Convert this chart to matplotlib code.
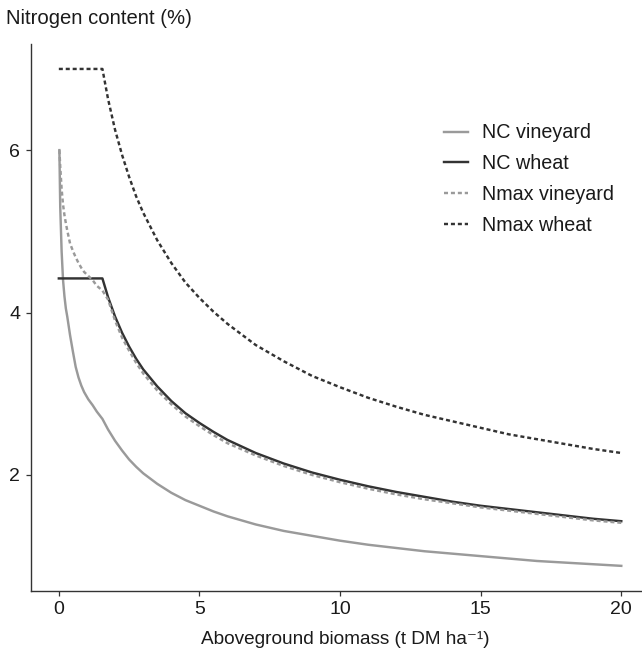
import matplotlib
matplotlib.use("Agg")
import matplotlib.pyplot as plt

plt.rcParams['font.family'] = ['Liberation Sans', 'DejaVu Sans']

# Biomass (t DM/ha) and nitrogen content (%)
biomass_wheat = [0, 1.55, 1.75, 2, 2.25, 2.5, 2.75, 3, 3.5, 4, 4.5, 5, 5.5, 6, 7, 8, 9,
                 10, 11, 12, 13, 14, 15, 16, 17, 18, 19, 20]
nc_wheat = [4.42, 4.42, 4.19, 3.95, 3.75, 3.58, 3.43, 3.30, 3.09, 2.91, 2.76, 2.64,
            2.53, 2.43, 2.27, 2.14, 2.03, 1.94, 1.86, 1.79, 1.73, 1.67, 1.62, 1.58,
            1.54, 1.50, 1.46, 1.43]
nmax_wheat = [7.0, 7.0, 6.63, 6.25, 5.94, 5.67, 5.43, 5.23, 4.89, 4.61, 4.37, 4.18,
              4.01, 3.86, 3.60, 3.40, 3.22, 3.08, 2.95, 2.84, 2.74, 2.66, 2.58, 2.50,
              2.44, 2.38, 2.32, 2.27]

biomass_vineyard = [0.02, 0.05, 0.1, 0.15, 0.2, 0.25, 0.3, 0.4, 0.5, 0.6, 0.7, 0.8,
                    0.9, 1.05, 1.2, 1.35, 1.55, 1.75, 2, 2.25, 2.5, 2.75, 3, 3.5, 4,
                    4.5, 5, 5.5, 6, 7, 8, 9, 10, 11, 12, 13, 14, 15, 16, 17, 18, 19, 20]
nc_vineyard = [6.0, 5.3, 4.75, 4.40, 4.20, 4.05, 3.95, 3.72, 3.52, 3.33, 3.20, 3.10,
               3.02, 2.93, 2.86, 2.78, 2.69, 2.56, 2.42, 2.30, 2.19, 2.10, 2.02, 1.89,
               1.78, 1.69, 1.62, 1.55, 1.49, 1.39, 1.31, 1.25, 1.19, 1.14, 1.10, 1.06,
               1.03, 1.00, 0.97, 0.94, 0.92, 0.90, 0.88]
nmax_vineyard = [6.0, 5.80, 5.52, 5.33, 5.20, 5.10, 5.01, 4.85, 4.76, 4.68, 4.61, 4.55,
                 4.50, 4.45, 4.40, 4.33, 4.27, 4.16, 3.90, 3.69, 3.53, 3.38, 3.25, 3.04,
                 2.87, 2.72, 2.60, 2.49, 2.39, 2.24, 2.11, 2.00, 1.91, 1.83, 1.76, 1.70,
                 1.65, 1.60, 1.56, 1.52, 1.48, 1.44, 1.41]

light = "#9a9a9a"
dark = "#333333"
text_col = "#1a1a1a"
lw = 1.75
dash = (1.65, 1.2)

W, H = 642, 654
fig = plt.figure(figsize=(W / 100, H / 100), dpi=100)
# axes run past the right edge, as in the cropped original
ax = fig.add_axes([30.7 / W, (H - 590.7) / H, 618.7 / W, 546.6 / H])

ax.plot(biomass_vineyard, nc_vineyard, color=light, lw=lw, label="NC vineyard")
ax.plot(biomass_wheat, nc_wheat, color=dark, lw=lw, label="NC wheat")
ax.plot(biomass_vineyard, nmax_vineyard, color=light, lw=lw, dashes=dash,
        label="Nmax vineyard")
ax.plot(biomass_wheat, nmax_wheat, color=dark, lw=lw, dashes=dash,
        label="Nmax wheat")

ax.set_xlim(-1, 21)
ax.set_ylim(0.574, 7.306)
ax.set_xticks([0, 5, 10, 15, 20])
ax.set_yticks([2, 4, 6])

for side in ["top", "right"]:
    ax.spines[side].set_visible(False)
for side in ["left", "bottom"]:
    ax.spines[side].set_color(dark)
    ax.spines[side].set_linewidth(1.0)
ax.tick_params(direction="out", length=3.5, width=0.9, color=dark,
               labelsize=14, labelcolor=text_col, pad=4)

ax.set_xlabel("Aboveground biomass (t DM ha⁻¹)", fontsize=13.7, color=text_col)
ax.xaxis.set_label_coords((345 - 30.7) / 618.7, (590.7 - 640) / 546.6)
ax.xaxis.label.set_va("center")

fig.text(6 / W, 1 - 18 / H, "Nitrogen content (%)", fontsize=14.6, color=text_col,
         ha="left", va="center")

ax.legend(frameon=False, fontsize=14.2, loc="upper left",
          bbox_to_anchor=(444 / W, 1 - 123.5 / H), bbox_transform=fig.transFigure,
          borderpad=0, borderaxespad=0, handlelength=1.23, handletextpad=0.72,
          labelspacing=0.6, labelcolor=text_col)

fig.savefig("out.png", dpi=100)
